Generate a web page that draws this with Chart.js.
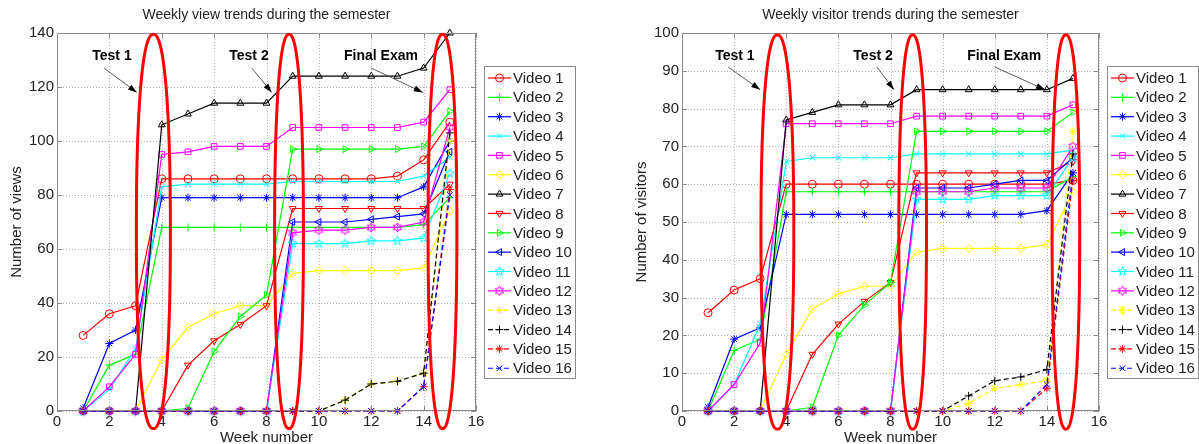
<!DOCTYPE html>
<html>
<head>
<meta charset="utf-8">
<script src="https://cdn.jsdelivr.net/npm/chart.js@4.4.1/dist/chart.umd.min.js"></script>
<style>
  html, body { margin: 0; padding: 0; background: #fff; }
  #wrap { position: relative; width: 1199px; height: 444px; overflow: hidden; }
  .panel { position: absolute; top: 0; height: 444px; }
  #leftPanel { left: 0; width: 600px; }
  #rightPanel { left: 600px; width: 599px; }
</style>
</head>
<body>
<div id="wrap">
  <div class="panel" id="leftPanel"><canvas id="viewsChart"></canvas></div>
  <div class="panel" id="rightPanel"><canvas id="visitorsChart"></canvas></div>
</div>
<script>
// ===== data =====
const weeks = [1, 2, 3, 4, 5, 6, 7, 8, 9, 10, 11, 12, 13, 14, 15];
const videoLabels = ['Video 1', 'Video 2', 'Video 3', 'Video 4', 'Video 5', 'Video 6', 'Video 7', 'Video 8',
                     'Video 9', 'Video 10', 'Video 11', 'Video 12', 'Video 13', 'Video 14', 'Video 15', 'Video 16'];
const xTicks = [0, 2, 4, 6, 8, 10, 12, 14, 16];
const viewTicks = [0, 20, 40, 60, 80, 100, 120, 140];
const visitorTicks = [0, 10, 20, 30, 40, 50, 60, 70, 80, 90, 100];

// weekly views
const viewsV1  = [28, 36, 39, 86, 86, 86, 86, 86, 86, 86, 86, 86, 87, 93, 107];
const viewsV2  = [0, 17, 21, 68, 68, 68, 68, 68, 68, 68, 68, 68, 68, 69, 79];
const viewsV3  = [1, 25, 30, 79, 79, 79, 79, 79, 79, 79, 79, 79, 79, 83, 100];
const viewsV4  = [0, 8, 23, 83, 84, 84, 84, 84, 85, 85, 85, 85, 85, 87, 94];
const viewsV5  = [0, 9, 21, 95, 96, 98, 98, 98, 105, 105, 105, 105, 105, 107, 119];
const viewsV6  = [0, 0, 0, 19, 31, 36, 39, 39, 51, 52, 52, 52, 52, 53, 74];
const viewsV7  = [0, 0, 0, 106, 110, 114, 114, 114, 124, 124, 124, 124, 124, 127, 140];
const viewsV8  = [0, 0, 0, 0, 17, 26, 32, 39, 75, 75, 75, 75, 75, 75, 84];
const viewsV9  = [0, 0, 0, 0, 1, 22, 35, 43, 97, 97, 97, 97, 97, 98, 111];
const viewsV10 = [0, 0, 0, 0, 0, 0, 0, 0, 70, 70, 70, 71, 72, 73, 96];
const viewsV11 = [0, 0, 0, 0, 0, 0, 0, 0, 62, 62, 62, 63, 63, 64, 88];
const viewsV12 = [0, 0, 0, 0, 0, 0, 0, 0, 66, 67, 67, 68, 68, 70, 105];
const viewsV13 = [0, 0, 0, 0, 0, 0, 0, 0, 0, 0, 4, 10, 11, 14, 100];
const viewsV14 = [0, 0, 0, 0, 0, 0, 0, 0, 0, 0, 4, 10, 11, 14, 103];
const viewsV15 = [0, 0, 0, 0, 0, 0, 0, 0, 0, 0, 0, 0, 0, 9, 82];
const viewsV16 = [0, 0, 0, 0, 0, 0, 0, 0, 0, 0, 0, 0, 0, 9, 80];

// weekly visitors
const visitorsV1  = [26, 32, 35, 60, 60, 60, 60, 60, 60, 60, 60, 60, 60, 60, 61];
const visitorsV2  = [0, 16, 19, 58, 58, 58, 58, 58, 58, 58, 58, 58, 58, 58, 62];
const visitorsV3  = [1, 19, 22, 52, 52, 52, 52, 52, 52, 52, 52, 52, 52, 53, 63];
const visitorsV4  = [0, 7, 23, 66, 67, 67, 67, 67, 68, 68, 68, 68, 68, 68, 69];
const visitorsV5  = [0, 7, 18, 76, 76, 76, 76, 76, 78, 78, 78, 78, 78, 78, 81];
const visitorsV6  = [0, 0, 0, 15, 27, 31, 33, 33, 42, 43, 43, 43, 43, 44, 58];
const visitorsV7  = [0, 0, 0, 77, 79, 81, 81, 81, 85, 85, 85, 85, 85, 85, 88];
const visitorsV8  = [0, 0, 0, 0, 15, 23, 29, 34, 63, 63, 63, 63, 63, 63, 66];
const visitorsV9  = [0, 0, 0, 0, 1, 20, 28, 34, 74, 74, 74, 74, 74, 74, 79];
const visitorsV10 = [0, 0, 0, 0, 0, 0, 0, 0, 59, 59, 59, 60, 61, 61, 67];
const visitorsV11 = [0, 0, 0, 0, 0, 0, 0, 0, 56, 56, 56, 57, 57, 57, 67];
const visitorsV12 = [0, 0, 0, 0, 0, 0, 0, 0, 58, 58, 58, 59, 59, 59, 70];
const visitorsV13 = [0, 0, 0, 0, 0, 0, 0, 0, 0, 0, 2, 6, 7, 8, 74];
const visitorsV14 = [0, 0, 0, 0, 0, 0, 0, 0, 0, 0, 4, 8, 9, 11, 68];
const visitorsV15 = [0, 0, 0, 0, 0, 0, 0, 0, 0, 0, 0, 0, 0, 6, 61];
const visitorsV16 = [0, 0, 0, 0, 0, 0, 0, 0, 0, 0, 0, 0, 0, 7, 63];

const viewSeries = [viewsV1, viewsV2, viewsV3, viewsV4, viewsV5, viewsV6, viewsV7, viewsV8,
                    viewsV9, viewsV10, viewsV11, viewsV12, viewsV13, viewsV14, viewsV15, viewsV16];
const visitorSeries = [visitorsV1, visitorsV2, visitorsV3, visitorsV4, visitorsV5, visitorsV6, visitorsV7, visitorsV8,
                       visitorsV9, visitorsV10, visitorsV11, visitorsV12, visitorsV13, visitorsV14, visitorsV15, visitorsV16];

// ===== styles =====
const FONT = '"Liberation Sans", Arial, Helvetica, sans-serif';
const TEXT = '#222';

// pentagram / hexagram markers (Chart.js has none)
function starMarker(points, color) {
    const size = 11;
    const c = document.createElement('canvas');
    c.width = size; c.height = size;
    const g = c.getContext('2d');
    const R = size / 2 - 0.8, r = R * (points === 5 ? 0.42 : 0.55);
    g.beginPath();
    for (let k = 0; k < points * 2; k++) {
        const rad = k % 2 ? r : R;
        const ang = -Math.PI / 2 + k * Math.PI / points;
        const x = size / 2 + rad * Math.cos(ang), y = size / 2 + rad * Math.sin(ang);
        if (k === 0) g.moveTo(x, y); else g.lineTo(x, y);
    }
    g.closePath();
    g.strokeStyle = color;
    g.lineWidth = 1;
    g.stroke();
    return c;
}

const seriesStyle = [
    { color: '#ff0000', marker: 'circle' },
    { color: '#00ff00', marker: 'cross' },
    { color: '#0000ff', marker: 'star' },
    { color: '#00ffff', marker: 'crossRot' },
    { color: '#ff00ff', marker: 'rect' },
    { color: '#ffff00', marker: 'rectRot' },
    { color: '#000000', marker: 'triangle' },
    { color: '#ff0000', marker: 'triangle', rot: 180 },
    { color: '#00ff00', marker: 'triangle', rot: 90 },
    { color: '#0000ff', marker: 'triangle', rot: -90 },
    { color: '#00ffff', marker: starMarker(5, '#00ffff') },
    { color: '#ff00ff', marker: starMarker(6, '#ff00ff') },
    { color: '#ffff00', marker: 'star', dash: true },
    { color: '#000000', marker: 'cross', dash: true },
    { color: '#ff0000', marker: 'star', dash: true },
    { color: '#0000ff', marker: 'crossRot', dash: true }
];

// rounded "ellipse" (slightly boxier than a true ellipse, like the hand-placed ones)
function superEllipse(ctx, cx, cy, rx, ry, n) {
    const e = 2 / n;
    ctx.beginPath();
    for (let k = 0; k <= 360; k++) {
        const t = k * Math.PI / 180;
        const c = Math.cos(t), s = Math.sin(t);
        const x = cx + rx * Math.sign(c) * Math.pow(Math.abs(c), e);
        const y = cy + ry * Math.sign(s) * Math.pow(Math.abs(s), e);
        if (k === 0) ctx.moveTo(x, y); else ctx.lineTo(x, y);
    }
    ctx.closePath();
    ctx.stroke();
}

// ===== decorations: grid, box, inward ticks, ellipses, notes, title, legend =====
const decorPlugin = {
    id: 'decor',
    beforeDatasetsDraw(chart) {
        const ctx = chart.ctx;
        const area = chart.chartArea;
        const xs = chart.scales.x, ys = chart.scales.y;
        ctx.save();
        ctx.strokeStyle = '#b4b4b4';
        ctx.lineWidth = 1;
        ctx.setLineDash([1, 2]);
        ctx.beginPath();
        xs.ticks.forEach(t => {
            const px = Math.round(xs.getPixelForValue(t.value)) + 0.5;
            ctx.moveTo(px, area.top); ctx.lineTo(px, area.bottom);
        });
        ys.ticks.forEach(t => {
            const py = Math.round(ys.getPixelForValue(t.value)) + 0.5;
            ctx.moveTo(area.left, py); ctx.lineTo(area.right, py);
        });
        ctx.stroke();
        ctx.restore();
    },
    afterDatasetsDraw(chart, args, opts) {
        const ctx = chart.ctx;
        const area = chart.chartArea;
        const xs = chart.scales.x, ys = chart.scales.y;
        ctx.save();

        // axes box
        ctx.setLineDash([]);
        ctx.strokeStyle = '#8a8a8a';
        ctx.lineWidth = 1;
        ctx.strokeRect(Math.round(area.left) + 0.5, Math.round(area.top) + 0.5,
                       Math.round(area.right - area.left) - 1, Math.round(area.bottom - area.top) - 1);
        ctx.beginPath();
        xs.ticks.forEach(t => {
            const px = Math.round(xs.getPixelForValue(t.value)) + 0.5;
            ctx.moveTo(px, area.bottom); ctx.lineTo(px, area.bottom - 5);
            ctx.moveTo(px, area.top); ctx.lineTo(px, area.top + 5);
        });
        ys.ticks.forEach(t => {
            const py = Math.round(ys.getPixelForValue(t.value)) + 0.5;
            ctx.moveTo(area.left, py); ctx.lineTo(area.left + 5, py);
            ctx.moveTo(area.right, py); ctx.lineTo(area.right - 5, py);
        });
        ctx.stroke();

        // red ellipses
        ctx.strokeStyle = '#ff0000';
        ctx.lineWidth = 3;
        opts.ellipses.forEach(e => {
            const cx = xs.getPixelForValue(e.x);
            const rx = Math.abs(xs.getPixelForValue(e.x + e.rx) - cx);
            const yTop = ys.getPixelForValue(e.top), yBot = ys.getPixelForValue(e.bottom);
            superEllipse(ctx, cx, (yTop + yBot) / 2, rx, (yBot - yTop) / 2, 2.3);
        });

        // notes with arrows
        opts.notes.forEach(n => {
            const x0 = xs.getPixelForValue(n.from[0]), y0 = ys.getPixelForValue(n.from[1]);
            const x1 = xs.getPixelForValue(n.to[0]), y1 = ys.getPixelForValue(n.to[1]);
            ctx.strokeStyle = '#333';
            ctx.fillStyle = '#000';
            ctx.lineWidth = 0.8;
            ctx.beginPath(); ctx.moveTo(x0, y0); ctx.lineTo(x1, y1); ctx.stroke();
            const ang = Math.atan2(y1 - y0, x1 - x0), L = 9, W = 3;
            ctx.beginPath();
            ctx.moveTo(x1, y1);
            ctx.lineTo(x1 - L * Math.cos(ang) + W * Math.sin(ang), y1 - L * Math.sin(ang) - W * Math.cos(ang));
            ctx.lineTo(x1 - L * Math.cos(ang) - W * Math.sin(ang), y1 - L * Math.sin(ang) + W * Math.cos(ang));
            ctx.closePath();
            ctx.fill();
            ctx.font = 'bold 14px ' + FONT;
            ctx.textAlign = 'center';
            ctx.textBaseline = 'middle';
            ctx.fillText(n.text, xs.getPixelForValue(n.at[0]), ys.getPixelForValue(n.at[1]));
        });

        // title
        ctx.fillStyle = TEXT;
        ctx.font = '14px ' + FONT;
        ctx.textAlign = 'center';
        ctx.textBaseline = 'middle';
        ctx.fillText(opts.title, (area.left + area.right) / 2, area.top - 18);

        // legend
        const lx = Math.round(area.right) + 8, ly = Math.round(area.top) + 33;
        const lw = opts.legendWidth, lh = 312, rowH = 19.35;
        ctx.fillStyle = '#fff';
        ctx.fillRect(lx, ly, lw, lh);
        ctx.strokeStyle = '#8a8a8a';
        ctx.lineWidth = 1;
        ctx.strokeRect(lx + 0.5, ly + 0.5, lw - 1, lh);
        chart.data.datasets.forEach((ds, i) => {
            const y = ly + 12 + i * rowH;
            ctx.strokeStyle = ds.borderColor;
            ctx.lineWidth = 1.2;
            ctx.setLineDash(ds.borderDash);
            ctx.beginPath(); ctx.moveTo(lx + 4, y); ctx.lineTo(lx + 27, y); ctx.stroke();
            ctx.setLineDash([]);
            ctx.lineWidth = 1;
            ctx.fillStyle = 'rgba(0,0,0,0)';
            Chart.helpers.drawPoint(ctx, { pointStyle: ds.pointStyle, rotation: ds.pointRotation, radius: 4, borderWidth: 1 }, lx + 15.5, y);
            ctx.fillStyle = TEXT;
            ctx.font = '15px ' + FONT;
            ctx.textAlign = 'left';
            ctx.textBaseline = 'middle';
            ctx.fillText(ds.label, lx + 29, y + 1);
        });
        ctx.restore();
    }
};

function buildDatasets(series) {
    return series.map((values, i) => {
        const st = seriesStyle[i];
        return {
            label: videoLabels[i],
            data: values.map((v, k) => ({ x: weeks[k], y: v })),
            borderColor: st.color,
            backgroundColor: st.color,
            borderWidth: 1.2,
            borderDash: st.dash ? [5, 3] : [],
            pointStyle: st.marker,
            pointRotation: st.rot || 0,
            pointRadius: 4,
            pointBorderColor: st.color,
            pointBackgroundColor: 'rgba(0,0,0,0)',
            pointBorderWidth: 1,
            tension: 0,
            fill: false,
            clip: false,
            order: series.length - i   // later videos drawn on top
        };
    });
}

function buildChart(canvasId, series, yTicks, yTitle, cfg) {
    const tickFont = { family: FONT, size: 15 };
    return new Chart(document.getElementById(canvasId), {
        type: 'line',
        data: { datasets: buildDatasets(series) },
        options: {
            responsive: true,
            maintainAspectRatio: false,
            devicePixelRatio: 1,
            animation: false,
            events: [],
            layout: { padding: { left: cfg.padLeft, top: 33, right: cfg.padRight, bottom: 0 } },
            plugins: {
                legend: { display: false },
                tooltip: { enabled: false },
                decor: cfg.decor
            },
            scales: {
                x: {
                    type: 'linear',
                    min: xTicks[0],
                    max: xTicks[xTicks.length - 1],
                    afterBuildTicks: s => { s.ticks = xTicks.map(v => ({ value: v })); },
                    ticks: { color: TEXT, font: tickFont, padding: 2, maxRotation: 0 },
                    grid: { display: false, drawTicks: false },
                    border: { display: false },
                    title: { display: true, text: 'Week number', color: TEXT, font: tickFont, padding: { top: 0, bottom: -3 } },
                    afterFit: s => { s.height = 33; }
                },
                y: {
                    type: 'linear',
                    min: yTicks[0],
                    max: yTicks[yTicks.length - 1],
                    afterBuildTicks: s => { s.ticks = yTicks.map(v => ({ value: v })); },
                    ticks: { color: TEXT, font: tickFont, padding: 3 },
                    grid: { display: false, drawTicks: false },
                    border: { display: false },
                    title: { display: true, text: yTitle, color: TEXT, font: tickFont, padding: { top: 8, bottom: 0 } },
                    afterFit: s => { s.width = 57; }
                }
            }
        },
        plugins: [decorPlugin]
    });
}

buildChart('viewsChart', viewSeries, viewTicks, 'Number of views', {
    padLeft: 0,
    padRight: 124,
    decor: {
        title: 'Weekly view trends during the semester',
        legendWidth: 92,
        ellipses: [
            { x: 3.68, rx: 0.65, top: 139.5, bottom: -6.5 },
            { x: 8.86, rx: 0.55, top: 139.5, bottom: -6.5 },
            { x: 14.72, rx: 0.55, top: 139.5, bottom: -6.5 }
        ],
        notes: [
            { text: 'Test 1', at: [2.1, 131.5], from: [1.8, 127], to: [3.05, 118] },
            { text: 'Test 2', at: [7.33, 131.5], from: [7.44, 127], to: [8.2, 118] },
            { text: 'Final Exam', at: [12.37, 131.5], from: [12.0, 127], to: [13.97, 118] }
        ]
    }
});

buildChart('visitorsChart', visitorSeries, visitorTicks, 'Number of visitors', {
    padLeft: 25,
    padRight: 100,
    decor: {
        title: 'Weekly visitor trends during the semester',
        legendWidth: 92,
        ellipses: [
            { x: 3.66, rx: 0.63, top: 99.5, bottom: -4.8 },
            { x: 8.85, rx: 0.53, top: 99.5, bottom: -4.8 },
            { x: 14.73, rx: 0.53, top: 99.5, bottom: -4.8 }
        ],
        notes: [
            { text: 'Test 1', at: [2.03, 94], from: [1.77, 91], to: [3.0, 85] },
            { text: 'Test 2', at: [7.33, 94], from: [7.48, 91], to: [8.13, 85] },
            { text: 'Final Exam', at: [12.36, 94], from: [12.0, 91], to: [13.93, 85] }
        ]
    }
});
</script>
</body>
</html>
